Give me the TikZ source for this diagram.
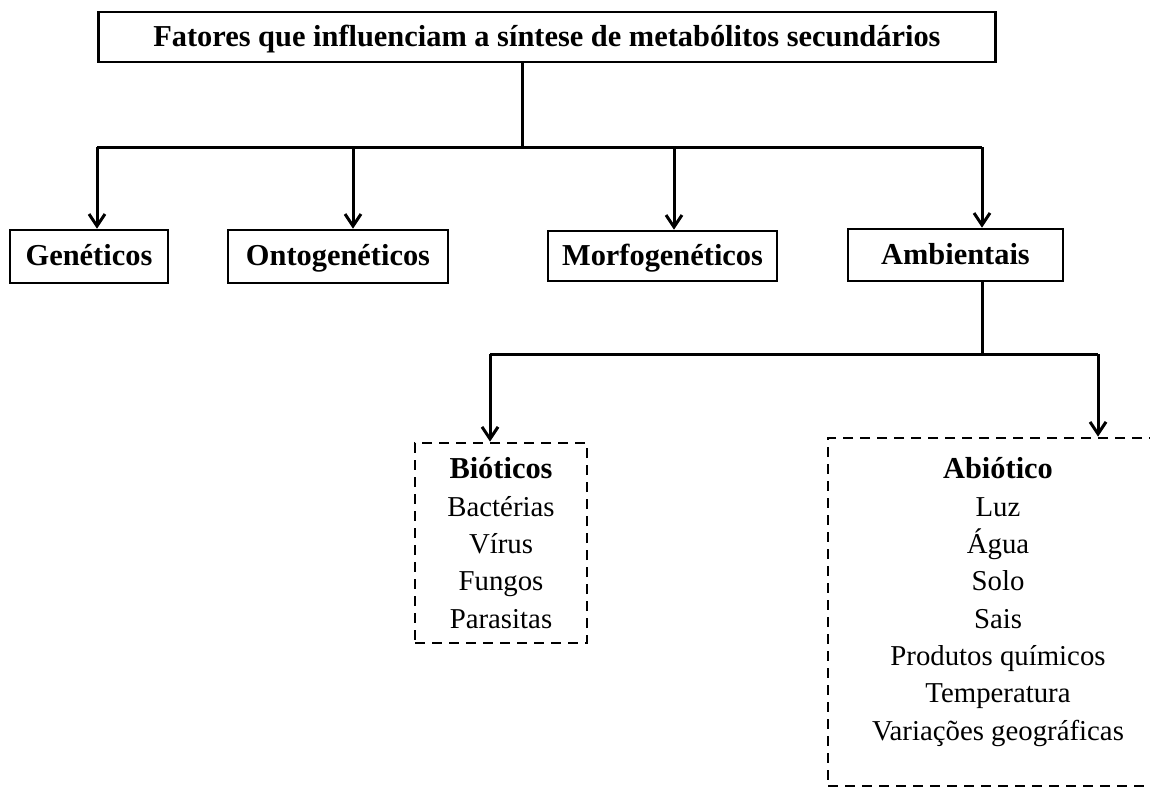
\documentclass[tikz,border=0pt]{standalone}
\usepackage{fontspec}
\setmainfont{Liberation Serif}
\usetikzlibrary{arrows.meta, positioning}

\begin{document}
\begin{tikzpicture}[x=0.5pt, y=-0.5pt, line width=1.5pt,
    >={Straight Barb[length=6pt, width=8pt]},
    caixa/.style={draw, line width=1.3pt, inner sep=0pt, text height=10pt, text depth=1pt,
        font=\fontsize{15.2}{18}\selectfont\bfseries},
    tracejada/.style={draw, dash pattern=on 5pt off 3.5pt, line width=1.4pt, inner sep=0pt},
    lista/.style={align=center, font=\fontsize{14.4}{18.65}\selectfont}]

    % =================================================================
    % 1. AREA DA FIGURA
    % =================================================================
    \useasboundingbox (0,0) rectangle (1150,789);
    \clip (0,0) rectangle (1150,789);

    % =================================================================
    % 2. CAIXA DO TITULO E PONTOS DA BARRA SUPERIOR
    % =================================================================
    \node[caixa, anchor=west, minimum height=25pt, inner xsep=27.5pt] (titulo) at (97,37)
        {Fatores que influenciam a síntese de metabólitos secundários};

    \coordinate (T) at (522,147);  % juncao abaixo do titulo
    \coordinate (B1) at (97,147);
    \coordinate (B2) at (353,147);
    \coordinate (B3) at (674,147);
    \coordinate (B4) at (982,147);

    % =================================================================
    % 3. CAIXAS DOS FATORES
    % =================================================================
    \node[caixa, minimum width=79pt, minimum height=26.5pt] (gen) at (89,256.5) {Genéticos};
    \node[caixa, minimum width=110pt, minimum height=26.5pt] (onto) at (338,256.5) {Ontogenéticos};
    \node[caixa, minimum width=114.5pt, minimum height=25pt] (morf) at (662.5,256) {Morfogenéticos};
    \node[caixa, minimum width=107.5pt, minimum height=26pt] (amb) at (955.5,255) {Ambientais};

    % =================================================================
    % 4. LIGACOES DO TITULO AOS FATORES
    % =================================================================
    \draw (titulo.south -| T) -- (T);
    \draw (B1) -- (B4);
    \draw[->] (B1) -- (B1 |- gen.north);
    \draw[->] (B2) -- (B2 |- onto.north);
    \draw[->] (B3) -- (B3 |- morf.north);
    \draw[->] (B4) -- (B4 |- amb.north);

    % =================================================================
    % 5. FATORES BIOTICOS E ABIOTICOS (CAIXAS TRACEJADAS)
    % =================================================================
    \node[tracejada, lista, minimum width=86pt, minimum height=100pt] (bio) at (501,543)
        {{\fontsize{15.2}{18.65}\selectfont\bfseries Bióticos}\\Bactérias\\Vírus\\Fungos\\Parasitas};

    \node[tracejada, minimum width=170pt, minimum height=174pt] (abio) at (998,612) {};
    \node[lista] (abiotxt) at (998,602)
        {{\fontsize{15.2}{18.65}\selectfont\bfseries Abiótico}\\Luz\\Água\\Solo\\Sais\\Produtos químicos\\Temperatura\\Variações geográficas};

    % =================================================================
    % 6. LIGACOES DE AMBIENTAIS
    % =================================================================
    \coordinate (A0) at (982,354);
    \coordinate (A1) at (490,354);
    \coordinate (A2) at (1098,354);
    \draw (amb.south -| A0) -- (A0);
    \draw (A1) -- (A2);
    \draw[->] (A1) -- (A1 |- bio.north);
    \draw[->] (A2) -- (A2 |- abio.north);

\end{tikzpicture}
\end{document}
